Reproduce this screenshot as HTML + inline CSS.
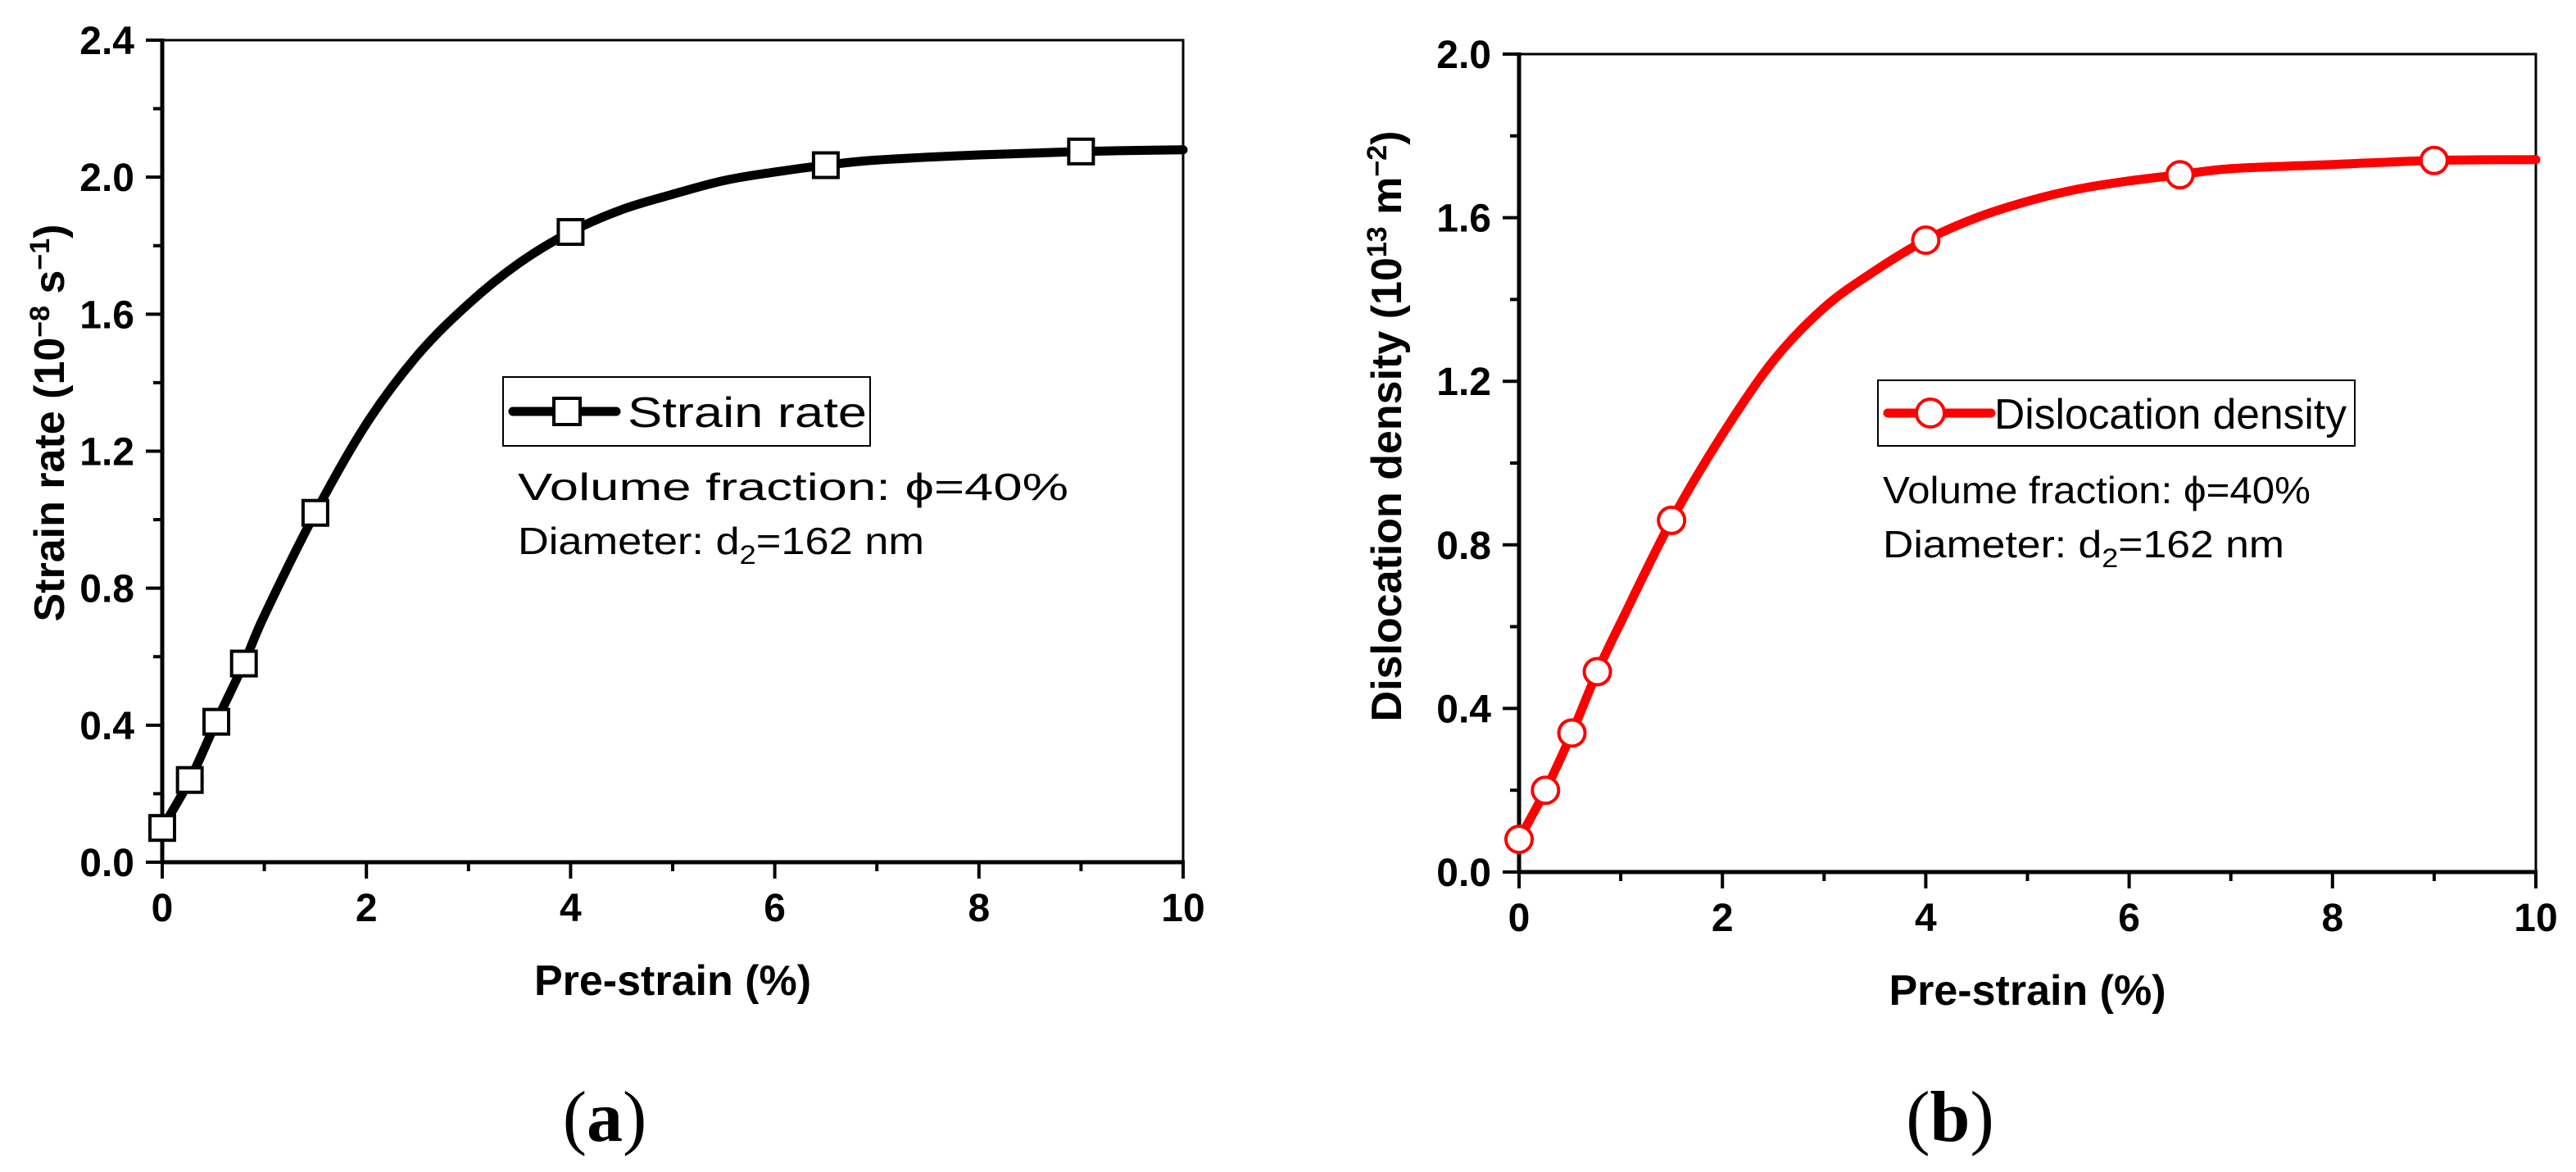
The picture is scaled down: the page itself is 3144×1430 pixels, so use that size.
<!DOCTYPE html>
<html><head><meta charset="utf-8"><style>
body{margin:0;background:#fff;}
svg{display:block;font-family:"Liberation Sans",sans-serif;}
.tick{font-weight:bold;font-size:48px;}
.title{font-weight:bold;font-size:52px;}
.ann{font-size:46px;}
.cap{font-family:"Liberation Serif",serif;font-size:88px;}
</style></head><body>
<svg id="fig" width="3144" height="1430" viewBox="0 0 3144 1430" xmlns="http://www.w3.org/2000/svg"></svg>
<script>
// Panel (a) data
const aMarkX = [0, 0.27, 0.53, 0.8, 1.5, 4, 6.5, 9];
const aMarkY = [0.10, 0.24, 0.41, 0.58, 1.02, 1.84, 2.035, 2.075];
const aCurveX = [0, 0.27, 0.53, 0.8, 1, 1.5, 2, 2.5, 3, 3.5, 4, 4.5, 5, 5.5, 6, 6.5, 7, 8, 9, 10];
const aCurveY = [0.10, 0.24, 0.41, 0.58, 0.72, 1.02, 1.28, 1.48, 1.63, 1.75, 1.84, 1.905, 1.95, 1.99, 2.015, 2.035, 2.05, 2.065, 2.075, 2.08];
const aYTicks = [0.0, 0.4, 0.8, 1.2, 1.6, 2.0, 2.4];
// Panel (b) data
const bMarkX = [0, 0.26, 0.52, 0.77, 1.5, 4, 6.5, 9];
const bMarkY = [0.08, 0.20, 0.34, 0.49, 0.86, 1.545, 1.705, 1.74];
const bCurveX = [0, 0.26, 0.52, 0.77, 1, 1.5, 2, 2.5, 3, 3.5, 4, 4.5, 5, 5.5, 6, 6.5, 7, 8, 9, 10];
const bCurveY = [0.08, 0.20, 0.34, 0.49, 0.61, 0.86, 1.07, 1.25, 1.38, 1.47, 1.545, 1.60, 1.64, 1.67, 1.69, 1.705, 1.72, 1.73, 1.74, 1.742];
const bYTicks = [0.0, 0.4, 0.8, 1.2, 1.6, 2.0];
const xTicks = [0, 2, 4, 6, 8, 10];

const NS = "http://www.w3.org/2000/svg";
const svg = document.getElementById('fig');
function mk(tag, attrs, parent, text) {
  const e = document.createElementNS(NS, tag);
  for (const k in attrs) e.setAttribute(k, attrs[k]);
  if (text !== undefined) e.textContent = text;
  (parent || svg).appendChild(e);
  return e;
}
function smoothPath(pts) {
  let d = 'M' + pts[0][0] + ',' + pts[0][1];
  for (let i = 0; i < pts.length - 1; i++) {
    const p0 = pts[i - 1] || pts[i], p1 = pts[i], p2 = pts[i + 1], p3 = pts[i + 2] || p2;
    const c1x = p1[0] + (p2[0] - p0[0]) / 6, c1y = p1[1] + (p2[1] - p0[1]) / 6;
    const c2x = p2[0] - (p3[0] - p1[0]) / 6, c2y = p2[1] - (p3[1] - p1[1]) / 6;
    d += ' C' + c1x + ',' + c1y + ' ' + c2x + ',' + c2y + ' ' + p2[0] + ',' + p2[1];
  }
  return d;
}

function panel(cfg) {
  const g = mk('g', {});
  
  
  const sx = v => cfg.x0 + (v - 0) / 10 * (cfg.x1 - cfg.x0);
  const sy = v => cfg.y0 - v / cfg.ymax * (cfg.y0 - cfg.y1);
  const fr = mk('rect', {x: cfg.x0, y: cfg.y1, width: cfg.x1 - cfg.x0, height: cfg.y0 - cfg.y1, fill: 'none', stroke: '#000', 'stroke-width': 3}, g);
  
  
  mk('line', {x1: cfg.x0, y1: cfg.y1 - 2, x2: cfg.x0, y2: cfg.y0 + 2, stroke: '#000', 'stroke-width': 5}, g);
  mk('line', {x1: cfg.x0 - 2, y1: cfg.y0, x2: cfg.x1 + 2, y2: cfg.y0, stroke: '#000', 'stroke-width': 5}, g);
  for (let v = 0; v <= 10; v++) {
    const major = v % 2 === 0;
    mk('line', {x1: sx(v), y1: cfg.y0, x2: sx(v), y2: cfg.y0 + (major ? 20 : 11), stroke: '#000', 'stroke-width': 4}, g);
  }
  xTicks.forEach(v => {
    const t = mk('text', {x: sx(v), y: cfg.y0 + 72, 'text-anchor': 'middle', class: 'tick'}, g, String(v));
    
    
  });
  for (let v = 0; v <= cfg.ymax + 1e-9; v += 0.2) {
    const major = Math.round(v * 10) % 4 === 0;
    mk('line', {x1: cfg.x0, y1: sy(v), x2: cfg.x0 - (major ? 20 : 11), y2: sy(v), stroke: '#000', 'stroke-width': 4}, g);
  }
  cfg.yTicks.forEach(v => {
    const t = mk('text', {x: cfg.x0 - 34, y: sy(v) + 17, 'text-anchor': 'end', class: 'tick'}, g, v.toFixed(1));
    
    
  });
  const xt = mk('text', {x: (cfg.x0 + cfg.x1) / 2, y: cfg.y0 + 162, 'text-anchor': 'middle', class: 'title'}, g, 'Pre-strain (%)');
  
  
  const yt = mk('text', {x: 0, y: 0, 'text-anchor': 'middle', class: 'title', transform: 'translate(' + cfg.ytx + ',' + cfg.yty + ') rotate(-90)'}, g);
  
  
  mk('tspan', {}, yt, cfg.ytitle[0]);
  mk('tspan', {dy: -18, 'font-size': 34}, yt, cfg.ytitle[1]);
  mk('tspan', {dy: 18}, yt, cfg.ytitle[2]);
  mk('tspan', {dy: -18, 'font-size': 34}, yt, cfg.ytitle[3]);
  mk('tspan', {dy: 18}, yt, ')');
  const pts = cfg.cx.map((v, i) => [sx(v), sy(cfg.cy[i])]);
  const line = mk('path', {d: smoothPath(pts), fill: 'none', stroke: cfg.color, 'stroke-width': 11, 'stroke-linejoin': 'round', 'stroke-linecap': 'round'}, g);
  
  
  cfg.mx.forEach((v, i) => {
    let m;
    if (cfg.square) m = mk('rect', {x: sx(v) - 15, y: sy(cfg.my[i]) - 15, width: 30, height: 30, fill: '#fff', stroke: cfg.color, 'stroke-width': 4}, g);
    else m = mk('circle', {cx: sx(v), cy: sy(cfg.my[i]), r: 16, fill: '#fff', stroke: cfg.color, 'stroke-width': 4}, g);
    
    
  });
  const L = cfg.legend;
  const lg = mk('g', {}, g);
  
  
  mk('rect', {x: L.x, y: L.y, width: L.w, height: L.h, fill: '#fff', stroke: '#000', 'stroke-width': 2}, lg);
  const ly = L.y + L.h / 2;
  mk('line', {x1: L.x + 12, y1: ly, x2: L.x + 138, y2: ly, stroke: cfg.color, 'stroke-width': 11, 'stroke-linecap': 'round'}, lg);
  if (cfg.square) mk('rect', {x: L.mx - 16, y: ly - 16, width: 32, height: 32, fill: '#fff', stroke: cfg.color, 'stroke-width': 4}, lg);
  else mk('circle', {cx: L.mx, cy: ly, r: 17, fill: '#fff', stroke: cfg.color, 'stroke-width': 4}, lg);
  mk('text', {x: L.tx, y: ly + 19, 'font-size': 52, textLength: L.tw, lengthAdjust: 'spacingAndGlyphs'}, lg, cfg.label);
  const a1 = mk('text', {x: cfg.annX, y: cfg.annY, class: 'ann', textLength: cfg.annW1, lengthAdjust: 'spacingAndGlyphs'}, g, 'Volume fraction: \u03d5=40%');
  
  
  const a2 = mk('text', {x: cfg.annX, y: cfg.annY + 66, class: 'ann', textLength: cfg.annW2, lengthAdjust: 'spacingAndGlyphs'}, g);
  
  
  mk('tspan', {}, a2, 'Diameter: d');
  mk('tspan', {dy: 12, 'font-size': 32}, a2, '2');
  mk('tspan', {dy: -12}, a2, '=162 nm');
  const cap = mk('text', {x: cfg.capX, y: cfg.capY, 'text-anchor': 'middle', class: 'cap'}, g);
  
  
  mk('tspan', {}, cap, '(');
  mk('tspan', {'font-weight': 'bold'}, cap, cfg.capL);
  mk('tspan', {}, cap, ')');
}

panel({name: 'panel-a-strain-rate', x0: 198, x1: 1444, y0: 1052, y1: 49, ymax: 2.4, yTicks: aYTicks,
  ytitle: ['Strain rate (10', '\u22128', ' s', '\u22121'], ytx: 78, yty: 516,
  cx: aCurveX, cy: aCurveY, mx: aMarkX, my: aMarkY, color: '#000', square: true,
  legend: {x: 614, y: 460, w: 448, h: 84, mx: 692, tx: 766, tw: 292}, label: 'Strain rate',
  annX: 632, annY: 610, annW1: 672, annW2: 496,
  capX: 738, capY: 1392, capL: 'a'});
panel({name: 'panel-b-dislocation-density', x0: 1854, x1: 3095, y0: 1064, y1: 66, ymax: 2.0, yTicks: bYTicks,
  ytitle: ['Dislocation density (10', '13', ' m', '\u22122'], ytx: 1710, yty: 520,
  cx: bCurveX, cy: bCurveY, mx: bMarkX, my: bMarkY, color: '#ff0000', square: false,
  legend: {x: 2292, y: 464, w: 582, h: 80, mx: 2356, tx: 2434, tw: 430}, label: 'Dislocation density',
  annX: 2298, annY: 614, annW1: 522, annW2: 490,
  capX: 2380, capY: 1392, capL: 'b'});
</script>
</body></html>
